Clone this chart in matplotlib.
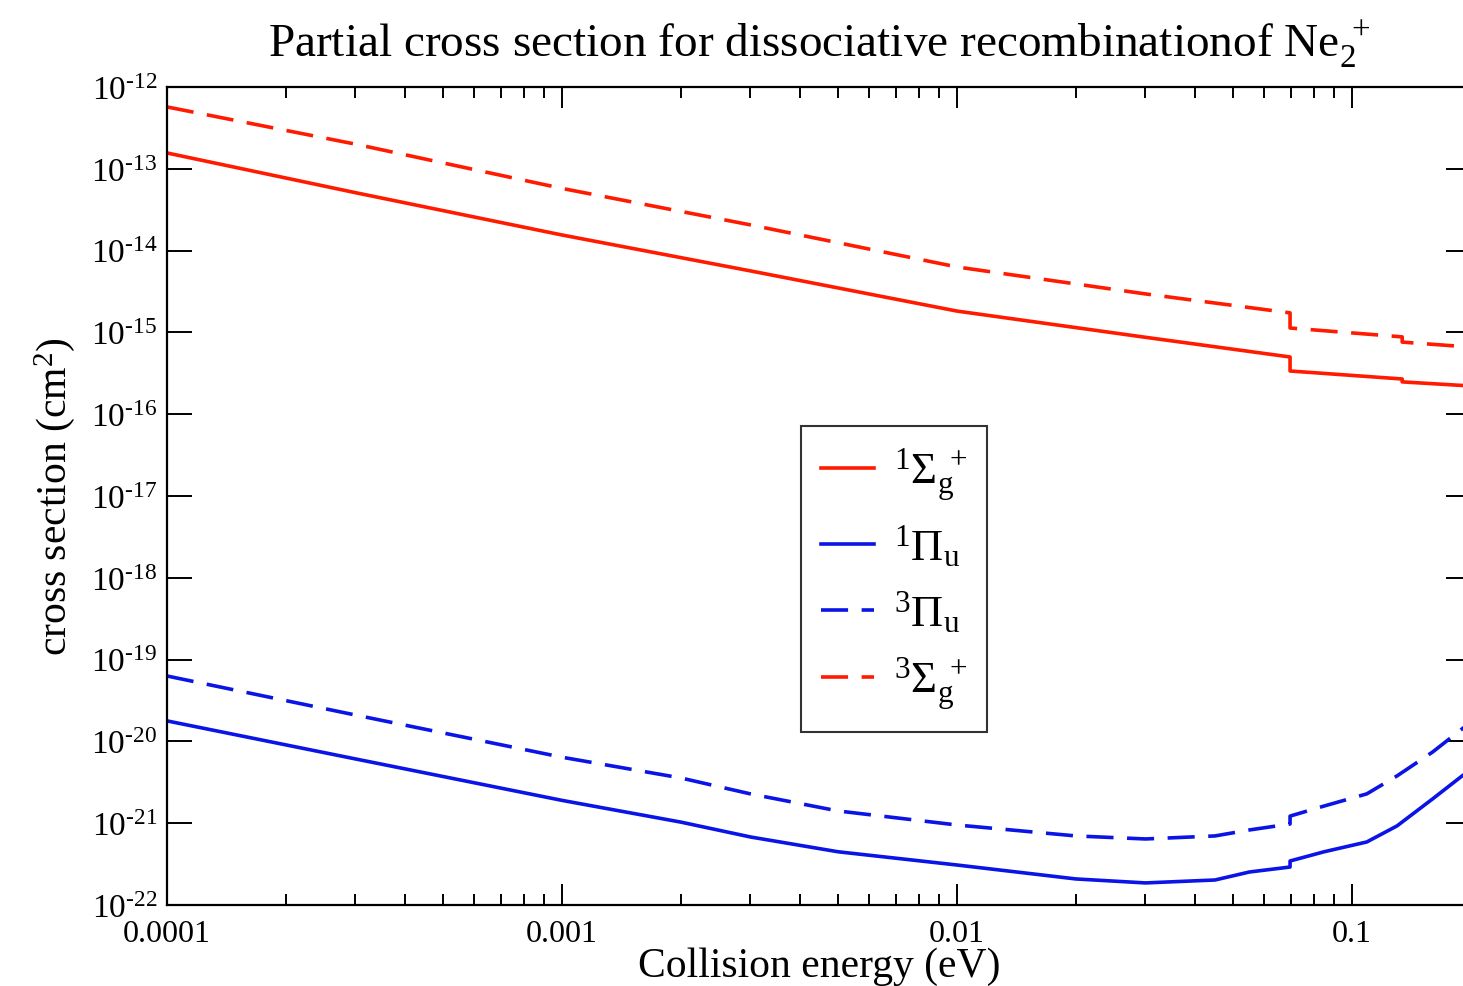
import matplotlib as mpl
mpl.use('Agg')
import math
import matplotlib.pyplot as plt
import matplotlib.ticker as mticker

plt.rcParams['font.family'] = ['Liberation Serif', 'DejaVu Serif']
plt.rcParams['mathtext.fontset'] = 'custom'
plt.rcParams['mathtext.rm'] = 'Liberation Serif'
plt.rcParams['mathtext.it'] = 'Liberation Serif:italic'
plt.rcParams['mathtext.bf'] = 'Liberation Serif:bold'

# collision energy (eV) / cross section (cm^2) for each symmetry
# (repeated energies mark the threshold steps)
e_sig1 = [1e-4, 3e-4, 1e-3, 3e-3, 1e-2, 3e-2, 0.0697, 0.0697, 0.134, 0.134, 0.2]
s_sig1 = [1.56e-13, 5.1e-14, 1.55e-14, 5.64e-15, 1.82e-15, 8.7e-16,
          5.0e-16, 3.37e-16, 2.69e-16, 2.48e-16, 2.21e-16]

e_sig3 = [1e-4, 3e-4, 1e-3, 3e-3, 1e-2, 3e-2, 0.0697, 0.0697, 0.134, 0.134, 0.2]
s_sig3 = [5.7e-13, 2.0e-13, 5.75e-14, 2.06e-14, 6.3e-15, 2.95e-15,
          1.73e-15, 1.13e-15, 8.8e-16, 7.6e-16, 6.6e-16]

e_pi1 = [1e-4, 3e-4, 1e-3, 2e-3, 3e-3, 5e-3, 1e-2, 2e-2, 3e-2, 4.5e-2, 5.5e-2,
         0.0697, 0.0697, 0.085, 0.109, 0.13, 0.16, 0.19, 0.2]
s_pi1 = [1.78e-20, 6.1e-21, 1.9e-21, 1.03e-21, 6.78e-22, 4.47e-22, 3.08e-22,
         2.08e-22, 1.86e-22, 2.02e-22, 2.53e-22, 2.91e-22, 3.45e-22, 4.47e-22,
         5.89e-22, 9.25e-22, 1.98e-21, 3.78e-21, 4.47e-21]

e_pi3 = [1e-4, 3e-4, 1e-3, 2e-3, 3e-3, 5e-3, 1e-2, 2e-2, 3e-2, 4.5e-2, 5.5e-2,
         0.0697, 0.0697, 0.085, 0.109, 0.13, 0.16, 0.19, 0.2]
s_pi3 = [6.3e-20, 2.1e-20, 6.4e-21, 3.57e-21, 2.28e-21, 1.41e-21, 9.5e-22,
         6.98e-22, 6.41e-22, 6.98e-22, 8.26e-22, 9.77e-22, 1.22e-21, 1.62e-21,
         2.28e-21, 3.78e-21, 7.41e-21, 1.42e-20, 1.73e-20]

x_ticks = [1e-4, 1e-3, 1e-2, 1e-1]
y_exps = list(range(-22, -11))

fig = plt.figure(figsize=(14.63, 9.87), dpi=100)
ax = fig.add_axes([0.1141, 0.0821, 0.8913, 0.8288])

lw = 2.6
dash = (7.5, 3.75)
red = '#ff1a00'
blue = '#0a14e6'
ax.plot(e_sig1, s_sig1, color=red, lw=lw, label=r'$^{1}\Sigma_{\mathrm{g}}^{\ +}$')
ax.plot(e_pi1, s_pi1, color=blue, lw=lw, label=r'$^{1}\Pi_{\mathrm{u}}$')
ax.plot(e_pi3, s_pi3, color=blue, lw=lw, dashes=dash, label=r'$^{3}\Pi_{\mathrm{u}}$')
ax.plot(e_sig3, s_sig3, color=red, lw=lw, dashes=dash, label=r'$^{3}\Sigma_{\mathrm{g}}^{\ +}$')

ax.set_xscale('log')
ax.set_yscale('log')
ax.set_xlim(1e-4, 0.2)
ax.set_ylim(1e-22, 1e-12)

ax.xaxis.set_major_locator(mticker.FixedLocator(x_ticks))
ax.xaxis.set_major_formatter(mticker.FuncFormatter(lambda v, p: '%g' % v))
ax.xaxis.set_minor_locator(mticker.LogLocator(base=10, subs=range(2, 10), numticks=20))
ax.xaxis.set_minor_formatter(mticker.NullFormatter())

def decade(v, pos):
    return r'$\mathrm{10}^{\text{%d}}$' % round(math.log10(v))

ax.yaxis.set_major_locator(mticker.FixedLocator([10.0 ** k for k in y_exps]))
ax.yaxis.set_major_formatter(mticker.FuncFormatter(decade))
ax.yaxis.set_minor_locator(mticker.NullLocator())

ax.tick_params(axis='x', which='major', direction='in', length=15, width=1.4,
               top=True, labelsize=23, pad=10)
ax.tick_params(axis='x', which='minor', direction='in', length=8, width=1.4, top=True)
ax.tick_params(axis='y', which='major', direction='in', length=18, width=1.4,
               right=True, labelsize=24, pad=7)
for sp in ax.spines.values():
    sp.set_linewidth(1.6)

ax.set_xlabel('Collision energy (eV)', fontsize=30, labelpad=-1)
ax.set_ylabel(r'cross section (cm$^{2}$)', fontsize=30, labelpad=10)
ax.set_title(r'Partial cross section for dissociative recombinationof Ne$_{2}^{\ +}$',
             fontsize=34, pad=22)

leg = ax.legend(loc='upper left', bbox_to_anchor=(0.486, 0.586), borderaxespad=0,
                fontsize=32, frameon=True, fancybox=False, handlelength=1.2,
                handletextpad=0.45, labelspacing=0.45, borderpad=0.45)
leg.get_frame().set_edgecolor('black')
leg.get_frame().set_linewidth(1.5)

fig.savefig('out.png', dpi=100)
